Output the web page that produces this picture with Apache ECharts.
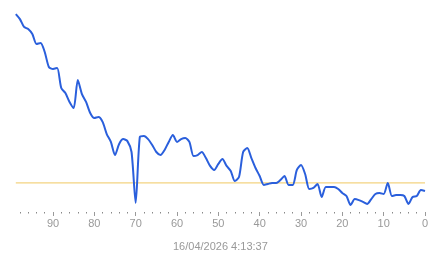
<!DOCTYPE html>
<html><head><meta charset="utf-8">
<script src="https://cdn.jsdelivr.net/npm/echarts@6/dist/echarts.min.js"></script>
<style>html,body{margin:0;padding:0;background:#fff;}#c{width:443px;height:258px;}</style>
</head><body><div id="c"></div>
<script>
// x: ticks-ago index (99 .. 0)
var xValues = [99,98,97,96,95,94,93,92,91,90,89,88,87,86,85,84,83,82,81,80,
  79,78,77,76,75,74,73,72,71,70,69,68,67,66,65,64,63,62,61,60,
  59,58,57,56,55,54,53,52,51,50,49,48,47,46,45,44,43,42,41,40,
  39,38,37,36,35,34,33,32,31,30,29,28,27,26,25,24,23,22,21,20,
  19,18,17,16,15,14,13,12,11,10,9,8,7,6,5,4,3,2,1,0];
var yValues = [98.0,95.5,91.6,90.6,88.1,83.2,83.7,79.2,71.8,70.8,71.3,61.4,58.9,54.5,51.5,65.3,58.4,54.5,49.0,46.5,
  47.0,44.6,38.6,34.7,28.2,33.7,36.1,35.1,29.7,4.5,37.1,37.6,36.1,33.2,29.7,28.2,30.7,34.7,38.1,34.7,
  36.1,36.6,34.7,27.7,28.2,29.7,26.7,22.8,20.8,23.8,26.2,22.8,20.3,15.3,17.3,29.7,31.7,26.7,21.8,17.8,
  13.4,13.9,14.4,14.4,15.8,17.8,13.4,13.4,20.8,23.3,18.8,11.4,11.9,13.9,7.4,12.4,12.4,12.4,11.4,9.4,
  7.9,3.5,6.4,5.9,5.0,4.0,6.4,8.9,9.4,8.9,14.4,7.9,8.4,8.4,7.9,4.0,7.4,7.9,10.9,10.4];
var referenceLevel = 14.4;
var referenceSpan = [99, 0];
var majorTicks = [0,10,20,30,40,50,60,70,80,90];
var minorTicks = [2,4,6,8,12,14,16,18,22,24,26,28,32,34,36,38,42,44,46,48,52,54,56,58,62,64,66,68,72,74,76,78,82,84,86,88,92,94,96,98];
var timestamp = '16/04/2026 4:13:37';

var data = xValues.map(function(x,i){return [x,yValues[i]];});
var refData = referenceSpan.map(function(x){return [x,referenceLevel];});
var chart = echarts.init(document.getElementById('c'));
var labelFont = 'Liberation Sans, Arial, sans-serif';
var refColor = '#f0c860';
chart.setOption({
  animation:false,
  grid:{left:15.8,right:18,top:10,bottom:46},
  xAxis:[{
    type:'value',min:0,max:99,interval:10,inverse:true,
    axisLine:{show:false},splitLine:{show:false},
    axisTick:{show:true,length:4,customValues:majorTicks,lineStyle:{color:'#9a9a9a',width:1}},
    axisLabel:{customValues:majorTicks,color:'#999',fontSize:11,fontFamily:labelFont,margin:6},
    name:timestamp,nameLocation:'middle',nameGap:29,
    nameTextStyle:{color:'#999',fontSize:11,fontFamily:labelFont}
  },{
    type:'value',min:0,max:99,interval:10,inverse:true,position:'bottom',
    axisLine:{show:false},splitLine:{show:false},axisLabel:{show:false},
    axisTick:{show:true,length:1.5,customValues:minorTicks,lineStyle:{color:'#888',width:1}}
  }],
  yAxis:{type:'value',min:0,max:100,show:false},
  series:[{
    type:'line',xAxisIndex:0,data:refData,showSymbol:false,z:1,silent:true,
    lineStyle:{color:refColor,width:1},itemStyle:{color:refColor}
  },{
    type:'line',xAxisIndex:0,data:data,showSymbol:false,smooth:0.25,z:3,
    lineStyle:{color:'#2a5fdc',width:2},itemStyle:{color:'#2a5fdc'}
  }]
});
</script></body></html>
